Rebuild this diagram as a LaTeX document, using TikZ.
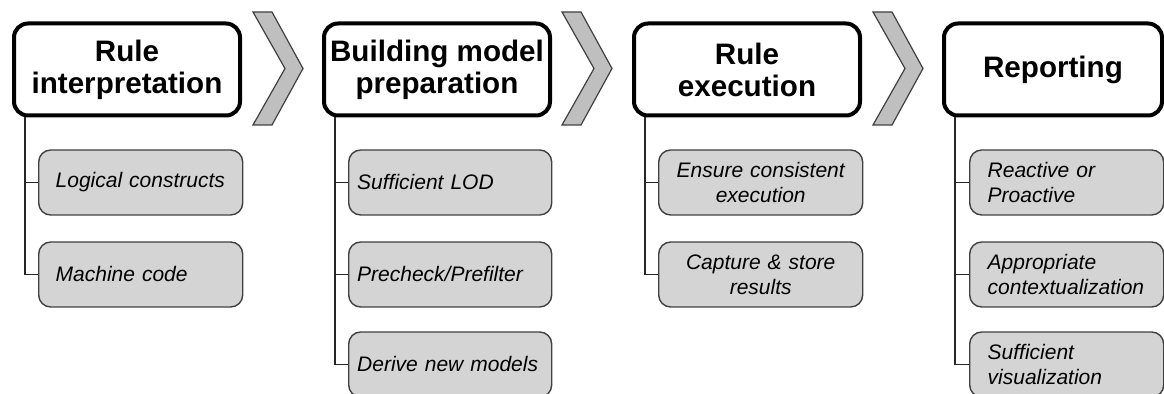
\documentclass[tikz,border=0pt]{standalone}
\usepackage{fontspec}
\setmainfont{Liberation Sans}
\usetikzlibrary{calc}
\tikzstyle{phase} = [draw,line width=2pt,rounded corners=7pt,fill=white,minimum height=46pt,align=center,inner sep=0pt,font=\fontsize{14.8}{16}\selectfont\bfseries]
\tikzstyle{task} = [draw=black!75,line width=0.7pt,rounded corners=6pt,fill=black!17,anchor=west,minimum height=32.5pt,inner xsep=0pt,font=\fontsize{10.5}{12.5}\selectfont\itshape]
\tikzstyle{chevron} = [draw=black!75,line width=0.6pt,fill=black!25,line join=miter]
\tikzstyle{tree} = [draw=black!85,line width=0.75pt]

\begin{document}
\begin{tikzpicture}[x=0.5pt,y=-0.5pt]
  \useasboundingbox (0,0) rectangle (1164,394);
  % Phase titles
  \node[phase,minimum width=113pt] (p1) at (127,69.5) {Rule\\interpretation};
  \node[phase,minimum width=113pt] (p2) at (437,69.5) {Building model\\preparation};
  \node[phase,minimum width=113pt] (p3) at (747,69.5) {Rule\\execution};
  \node[phase,minimum width=109pt] (p4) at (1053,69.5) {Reporting};
  % Chevrons between phases
  \foreach \x in {253,562,873} {
    \draw[chevron] (\x,12) -- ++(19,0) -- ++(31,56.5) -- ++(-31,56.5) -- ++(-19,0) -- ++(32,-56.5) -- cycle;
  }
  % Tasks
  \node[task,minimum width=102pt,text width=85pt,align=left] (t11) at (38,182.5) {Logical constructs};
  \node[task,minimum width=102pt,text width=85pt,align=left] (t12) at (38,274.5) {Machine code};
  \node[task,minimum width=101.5pt,text width=93pt,align=left] (t21) at (348,182.5) {Sufficient LOD};
  \node[task,minimum width=101.5pt,text width=93pt,align=left] (t22) at (348,274.5) {Precheck/Prefilter};
  \node[task,minimum width=101.5pt,text width=93pt,align=left] (t23) at (348,364.5) {Derive new models};
  \node[task,minimum width=102pt,text width=86pt,align=center] (t31) at (658,182.5) {Ensure consistent\\execution};
  \node[task,minimum width=102pt,text width=86pt,align=center] (t32) at (658,274.5) {Capture \& store\\results};
  \node[task,minimum width=97pt,text width=79pt,align=left] (t41) at (969,182.5) {Reactive or\\Proactive};
  \node[task,minimum width=97pt,text width=79pt,align=left] (t42) at (969,274.5) {Appropriate\\contextualization};
  \node[task,minimum width=97pt,text width=79pt,align=left] (t43) at (969,364.5) {Sufficient\\visualization};
  % Tree lines
  \foreach \c/\n in {1/2,2/3,3/2,4/3} {
    \coordinate (r\c) at ($(p\c.south west)+(13,0)$);
    \foreach \k in {1,...,\n} {
      \draw[tree] (r\c) |- (t\c\k.west);
    }
  }
\end{tikzpicture}
\end{document}
